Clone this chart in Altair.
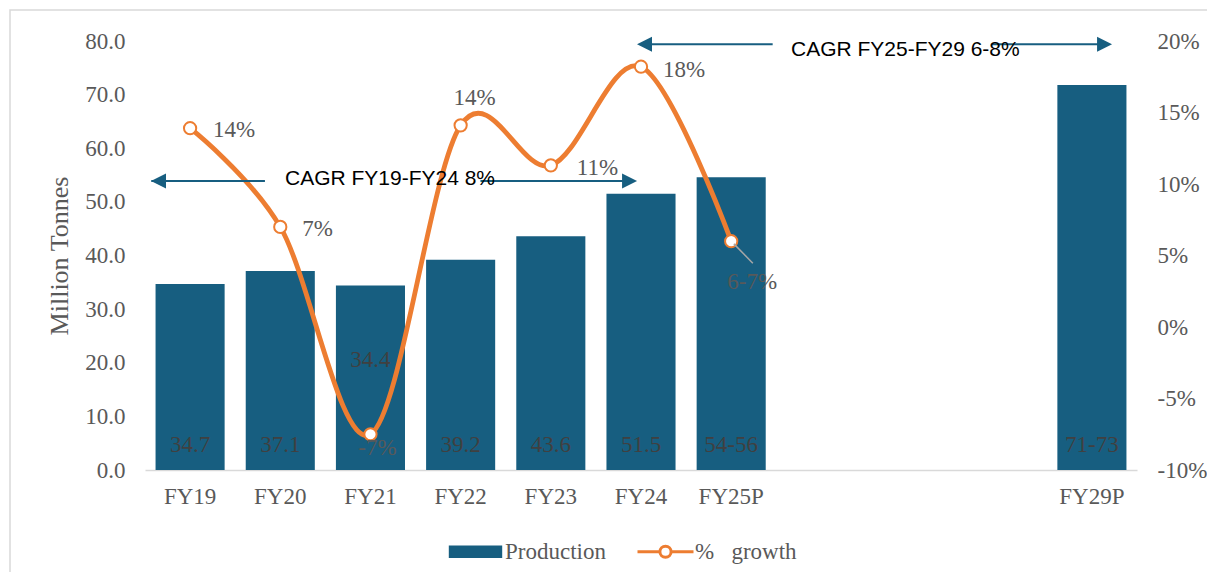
import altair as alt
import pandas as pd

# ---------------- data ----------------
categories = ["FY19", "FY20", "FY21", "FY22", "FY23", "FY24", "FY25P", "FY29P"]
production = [34.7, 37.1, 34.4, 39.2, 43.6, 51.5, 54.6, 71.8]
production_labels = ["34.7", "37.1", "34.4", "39.2", "43.6", "51.5", "54-56", "71-73"]
growth = [13.9, 7.0, -7.5, 14.1, 11.3, 18.2, 6.0, None]
growth_labels = ["14%", "7%", "-7%", "14%", "11%", "18%", "6-7%", ""]
gap_slots = [" ", "  ", "   "]          # empty FY26P-FY28P slots
x_domain = categories[:7] + gap_slots + categories[7:]
left_ticks = [0, 10, 20, 30, 40, 50, 60, 70, 80]
right_ticks = [-10, -5, 0, 5, 10, 15, 20]
series = ["Production", "%\u00a0\u00a0 growth"]
cagr_labels = ["CAGR FY19-FY24 8%", "CAGR FY25-FY29 6-8%"]

# ---------------- styles ----------------
BLUE = "#175E80"
ORANGE = "#ED7D31"
GREY = "#595959"
DARK = "#404040"
SERIF = "Liberation Serif"
SANS = "Liberation Sans"
W, H = 992, 429
N_SLOTS = len(x_domain)

df = pd.DataFrame({
    "cat": categories,
    "production": production,
    "plabel": production_labels,
    "growth": growth,
    "glabel": growth_labels,
})

xband = alt.Scale(domain=x_domain, paddingInner=0.234, paddingOuter=0.117)
yleft = alt.Scale(domain=[0, 80])
yright = alt.Scale(domain=[-10, 20])

base = alt.Chart(df)

# ---------------- bars ----------------
bars = base.mark_bar(color=BLUE).encode(
    x=alt.X("cat:N", scale=xband, title=None,
            axis=alt.Axis(labelFont=SERIF, labelFontSize=23, labelColor=GREY,
                          labelPadding=15, ticks=False, domainColor="#D9D9D9",
                          domainWidth=1.5, labelAngle=0, grid=False)),
    y=alt.Y("production:Q", scale=yleft, title="Million Tonnes",
            axis=alt.Axis(values=left_ticks, format=".1f", labelFont=SERIF,
                          labelFontSize=23, labelColor=GREY, labelPadding=20,
                          ticks=False, domain=False, grid=False,
                          titleFont=SERIF, titleFontSize=26, titleColor=GREY,
                          titleFontWeight="normal", titlePadding=12)),
)

bar_text_main = base.transform_filter("datum.cat != 'FY21'").mark_text(
    font=SERIF, fontSize=23, color=DARK, dy=-25, baseline="middle"
).encode(x=alt.X("cat:N", scale=xband), y=alt.Y(datum=0), text="plabel:N")

bar_text_fy21 = base.transform_filter("datum.cat == 'FY21'").mark_text(
    font=SERIF, fontSize=23, color=DARK, dy=-110, baseline="middle"
).encode(x=alt.X("cat:N", scale=xband), y=alt.Y(datum=0), text="plabel:N")

bar_group = alt.layer(bars, bar_text_main, bar_text_fy21)

# ---------------- growth line ----------------
gbase = base.transform_filter("isValid(datum.growth)")
line = gbase.mark_line(color=ORANGE, strokeWidth=4.8, interpolate="cardinal",
                       tension=0).encode(
    x=alt.X("cat:N", scale=xband, axis=None),
    y=alt.Y("growth:Q", scale=yright, title=None,
            axis=alt.Axis(orient="right", values=right_ticks,
                          labelExpr="datum.value + '%'", labelFont=SERIF,
                          labelFontSize=23, labelColor=GREY, labelPadding=20,
                          ticks=False, domain=False, grid=False)),
)
points = gbase.mark_point(shape="circle", size=150, filled=True, fill="white",
                          stroke=ORANGE, strokeWidth=2, opacity=1).encode(
    x=alt.X("cat:N", scale=xband), y=alt.Y("growth:Q", scale=yright))

label_offsets = {
    "FY19": (23, 2, "left"),
    "FY20": (22, 2, "left"),
    "FY21": (7, 14, "center"),
    "FY22": (14, -27, "center"),
    "FY23": (26, 3, "left"),
    "FY24": (22, 3, "left"),
    "FY25P": (21, 41, "center"),
}
glabel_layers = []
for cat, (dx, dy, align) in label_offsets.items():
    glabel_layers.append(
        gbase.transform_filter(f"datum.cat == '{cat}'").mark_text(
            font=SERIF, fontSize=23, color=GREY, dx=dx, dy=dy, align=align,
            baseline="middle"
        ).encode(x=alt.X("cat:N", scale=xband), y=alt.Y("growth:Q", scale=yright),
                 text="glabel:N")
    )

line_group = alt.layer(line, points, *glabel_layers)

# ---------------- annotations (slot units on x, left units on y) ----------------
ux = alt.Scale(domain=[0, N_SLOTS])
arrow_rows = pd.DataFrame({
    "x": [0.07, 3.72, 5.49, 9.39],
    "x2": [1.33, 5.38, 6.96, 10.65],
    "y": [53.9, 53.9, 79.4, 79.4],
})
head_rows = pd.DataFrame({
    "x": [0.15, 5.373, 5.539, 10.64],
    "y": [53.9, 53.9, 79.4, 79.4],
    "dir": ["left", "right", "left", "right"],
})
text_rows = pd.DataFrame({"x": [1.552, 7.163], "y": [53.9, 79.4], "t": cagr_labels})

arrow_lines = alt.Chart(arrow_rows).mark_rule(color=BLUE, strokeWidth=2).encode(
    x=alt.X("x:Q", scale=ux, axis=None), x2="x2:Q",
    y=alt.Y("y:Q", scale=yleft, axis=None))
heads_left = alt.Chart(head_rows).transform_filter("datum.dir == 'left'").mark_point(
    filled=True, opacity=1, size=225, color=BLUE, strokeWidth=0,
    shape="M-1,0L1,-1L1,1Z").encode(
    x=alt.X("x:Q", scale=ux), y=alt.Y("y:Q", scale=yleft))
heads_right = alt.Chart(head_rows).transform_filter("datum.dir == 'right'").mark_point(
    filled=True, opacity=1, size=225, color=BLUE, strokeWidth=0,
    shape="M1,0L-1,-1L-1,1Z").encode(
    x=alt.X("x:Q", scale=ux), y=alt.Y("y:Q", scale=yleft))
cagr1 = alt.Chart(text_rows).transform_filter("datum.x < 5").mark_text(
    font=SANS, fontSize=21, color="black", align="left", baseline="middle", dy=-2
).encode(x=alt.X("x:Q", scale=ux), y=alt.Y("y:Q", scale=yleft), text="t:N")
cagr2 = alt.Chart(text_rows).transform_filter("datum.x > 5").mark_text(
    font=SANS, fontSize=21, color="black", align="left", baseline="middle", dy=6
).encode(x=alt.X("x:Q", scale=ux), y=alt.Y("y:Q", scale=yleft), text="t:N")

leader = base.transform_filter("datum.cat == 'FY25P'").transform_calculate(
    u="indexof(" + str(x_domain) + ", datum.cat) + 0.53",
    u2="indexof(" + str(x_domain) + ", datum.cat) + 0.74",
    yl="(datum.growth + 10) * 80 / 30 - 0.5",
    yl2="(datum.growth + 10) * 80 / 30 - 4.1",
).mark_rule(color="#A6A6A6", strokeWidth=1.5).encode(
    x=alt.X("u:Q", scale=ux), x2="u2:Q",
    y=alt.Y("yl:Q", scale=yleft), y2="yl2:Q")

border = alt.Chart(pd.DataFrame({"k": [0]})).mark_rect(
    fillOpacity=0, stroke="#D9D9D9", strokeWidth=1.5).encode(
    x=alt.value(-135), x2=alt.value(1200), y=alt.value(-31), y2=alt.value(620))

annot_group = alt.layer(border, arrow_lines, heads_left, heads_right, cagr1, cagr2,
                        leader)

# ---------------- legend (empty layer drives the legend) ----------------
rect_path = "M-0.9,-0.17H0.9V0.17H-0.9Z"
line_path = ("M-1,0H-0.2M0.2,0H1M0.2,0A0.2,0.2 0 1,1 -0.2,0"
             "A0.2,0.2 0 1,1 0.2,0Z")
leg = alt.Legend(title=None)
legend_layer = alt.Chart(pd.DataFrame({"series": series})).transform_filter(
    "false").mark_point(filled=True, opacity=1, strokeWidth=3).encode(
    fill=alt.Fill("series:N", legend=leg,
                  scale=alt.Scale(domain=series, range=[BLUE, "#FFFFFF"])),
    stroke=alt.Stroke("series:N", legend=leg,
                      scale=alt.Scale(domain=series, range=[BLUE, ORANGE])),
    shape=alt.Shape("series:N", legend=leg,
                    scale=alt.Scale(domain=series, range=[rect_path, line_path])),
)

chart = alt.layer(bar_group, line_group, annot_group, legend_layer).resolve_scale(
    x="independent", y="independent"
).properties(
    width=W, height=H,
    autosize=alt.AutoSizeParams(type="none"),
    padding={"left": 137, "top": 33, "right": 70, "bottom": 102},
).configure_view(stroke=None).configure_legend(
    orient="none", legendX=301, legendY=481, direction="horizontal",
    symbolSize=3136, symbolStrokeWidth=3, labelFont=SERIF, labelFontSize=23,
    labelColor=GREY, labelOffset=0, columnPadding=25, padding=0,
)

chart.save("out.html", embed_options={"renderer": "svg", "actions": False})
